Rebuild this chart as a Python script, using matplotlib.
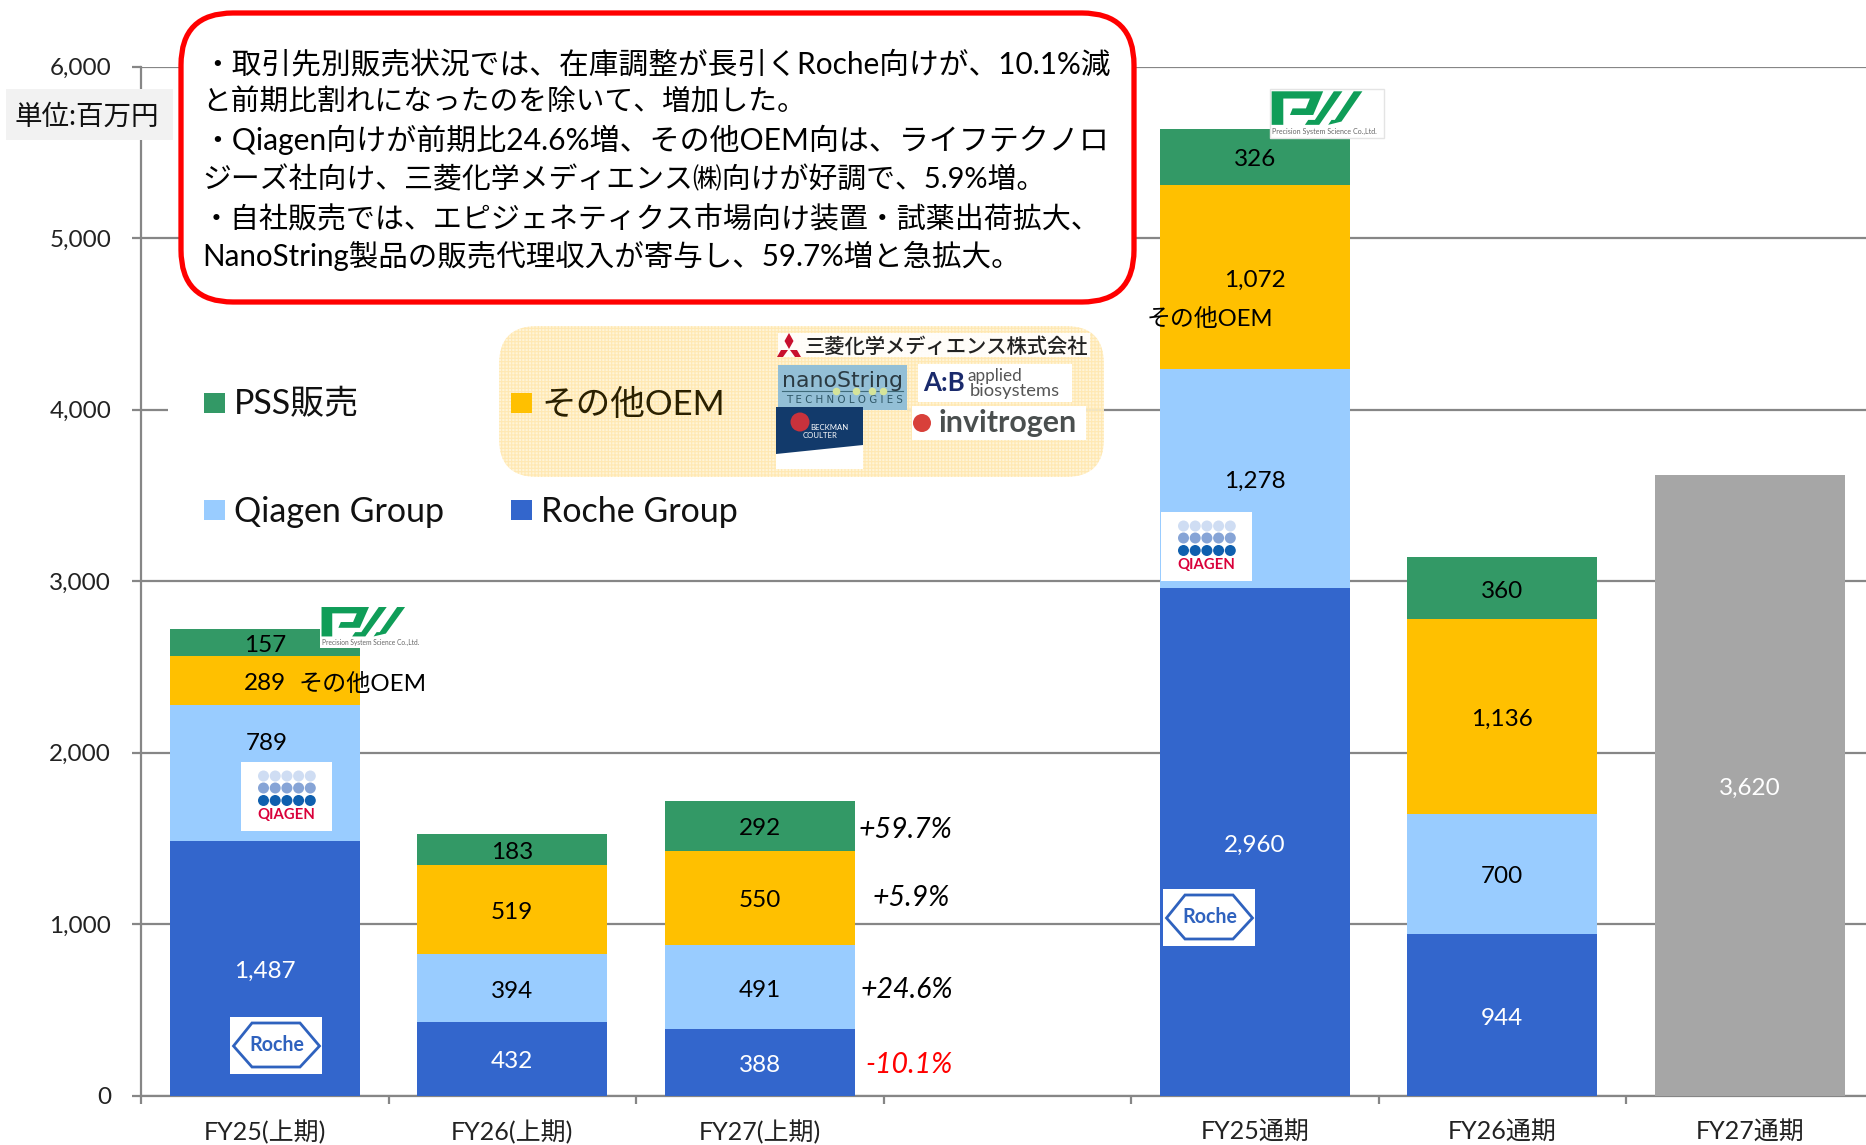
import matplotlib
matplotlib.use("Agg")
import matplotlib.pyplot as plt
from matplotlib.patches import FancyBboxPatch, Rectangle, Polygon, Circle, Ellipse

FONT = ['Lato', 'Noto Sans CJK JP', 'DejaVu Sans']
plt.rcParams['font.family'] = FONT
plt.rcParams['hatch.linewidth'] = 0.8
NARROW = ['Liberation Sans Narrow', 'Lato']

categories = ['FY25(上期)', 'FY26(上期)', 'FY27(上期)', 'FY25通期', 'FY26通期', 'FY27通期']
positions = [0, 1, 2, 4, 5, 6]
roche = [1487, 432, 388, 2960, 944, 0]
qiagen = [789, 394, 491, 1278, 700, 0]
oem = [289, 519, 550, 1072, 1136, 0]
pss = [157, 183, 292, 326, 360, 0]
forecast = [0, 0, 0, 0, 0, 3620]
growth_labels = ['+59.7%', '+5.9%', '+24.6%', '-10.1%']
yticks = [0, 1000, 2000, 3000, 4000, 5000, 6000]
series_names = ['PSS販売', 'その他OEM', 'Qiagen Group', 'Roche Group']
callout_lines = [
    '・取引先別販売状況では、在庫調整が長引くRoche向けが、10.1%減',
    'と前期比割れになったのを除いて、増加した。',
    '・Qiagen向けが前期比24.6%増、その他OEM向は、ライフテクノロ',
    'ジーズ社向け、三菱化学メディエンス㈱向けが好調で、5.9%増。',
    '・自社販売では、エピジェネティクス市場向け装置・試薬出荷拡大、',
    'NanoString製品の販売代理収入が寄与し、59.7%増と急拡大。',
]

C_ROCHE, C_QIA, C_OEM, C_PSS, C_GREY = '#3366CC', '#99CCFF', '#FFC000', '#339966', '#A6A6A6'
C_AX = '#868686'
W, H = 1866, 1145
fig = plt.figure(figsize=(W / 100, H / 100), dpi=100, facecolor='white')
L, R, T, B = 141, 1866, 66.5, 1096
ax = fig.add_axes([L / W, 1 - B / H, (R - L) / W, (B - T) / H])
ax.set_xlim(-0.5, -0.5 + (R - L) / 247.5)
ax.set_ylim(0, 6000)
ax.set_axisbelow(True)
ax.grid(axis='y', color=C_AX, lw=1.6)
for s in ['top', 'right']:
    ax.spines[s].set_visible(False)
for s in ['left', 'bottom']:
    ax.spines[s].set_color(C_AX)
    ax.spines[s].set_linewidth(1.6)

bottom = [0] * 6
stack = [(roche, C_ROCHE, 'white'), (qiagen, C_QIA, 'black'), (oem, C_OEM, 'black'),
         (pss, C_PSS, 'black'), (forecast, C_GREY, 'white')]
for vals, col, tc in stack:
    ax.bar(positions, vals, 0.768, bottom=bottom, color=col, linewidth=0, zorder=3)
    for p, v, b in zip(positions, vals, bottom):
        if v:
            dy = 33 if v == 789 else 0
            dx = 2 if v == 789 else 0
            ax.annotate(f'{v:,}', (p, b + v / 2), xytext=(dx * .72, (dy - 3) * .72), textcoords='offset points',
                        ha='center', va='center', fontsize=17.5, color=tc, zorder=5)
    bottom = [b + v for b, v in zip(bottom, vals)]

ax.set_yticks(yticks)
ax.set_yticklabels([f'{v:,}' for v in yticks], fontsize=17.5, color='#222222')
ax.tick_params(axis='y', length=6.5, width=1.6, color=C_AX, pad=15)
ax.set_xticks([-0.5 + i for i in range(7)])
ax.set_xticklabels([])
ax.set_xticks(positions, minor=True)
ax.set_xticklabels(categories, minor=True, fontsize=18, color='#222222')
ax.tick_params(axis='x', which='major', length=6, width=1.6, color=C_AX)
ax.tick_params(axis='x', which='minor', length=0, pad=17.5)

ov = fig.add_axes([0, 0, 1, 1], facecolor='none')
ov.set_xlim(0, W)
ov.set_ylim(H, 0)
ov.axis('off')
renderer = fig.canvas.get_renderer()


def fit(x, y, s, width, fs=14, ha='left', **kw):
    t = ov.text(x, y, s, ha=ha, va='center', fontsize=fs, **kw)
    w = t.get_window_extent(renderer).width
    t.set_fontsize(fs * width / w)
    return t


def rect(x0, y0, x1, y1, **kw):
    kw.setdefault('lw', 0)
    ov.add_patch(Rectangle((x0, y0), x1 - x0, y1 - y0, **kw))


# unit box
rect(6, 89, 173, 140, fc='#F2F2F2')
fit(15, 117, '単位:百万円', 145, color='#111111')

# legend area
rect(168, 380, 907, 440, fc='white')
ov.add_patch(FancyBboxPatch((535, 362), 533, 79, boxstyle='round,pad=36,rounding_size=38',
                            fc='#FFF3D2', ec='#FFE7AE', hatch='+++++', alpha=0.88, zorder=1.5, lw=0))
legend_pos = [(204, 403, C_PSS, 234, 126), (511, 403, C_OEM, 541, 184),
              (204, 510, C_QIA, 234, 211), (511, 510, C_ROCHE, 541, 198)]
for (sx, sy, col, tx, tw), name in zip(legend_pos, series_names):
    rect(sx, sy - 10, sx + 21, sy + 10, fc=col, zorder=2)
    fit(tx, sy + 1.5, name, tw, color='#2A2000' if name == 'その他OEM' else '#111111', zorder=2)

# callout
ov.add_patch(FancyBboxPatch((231, 63), 853, 189, boxstyle='round,pad=50,rounding_size=52',
                            fc='white', ec='#FF0000', lw=3.8, zorder=3))
for s, y, x1 in zip(callout_lines, [64, 102, 140, 180, 220, 256], [1111, 807, 1109, 1047, 1104, 1023]):
    fit(202, y, s, x1 - 202, color='black', zorder=4)

# growth labels
for s, x, y in zip(growth_labels, [905, 911, 907, 909], [830, 898, 990, 1065]):
    ov.text(x, y, s, ha='center', va='center', fontsize=20.5, style='italic',
            color='#FF0000' if s.startswith('-') else 'black')

# inline labels
fit(299, 684, 'その他OEM', 128, color='black', zorder=4)
fit(1147, 319, 'その他OEM', 127, color='black', zorder=4)


def roche_logo(x, y, w=92, h=57):
    rect(x, y, x + w, y + h, fc='white', zorder=6)
    pts = [(3.5, 29), (22, 6), (70, 6), (89.5, 29), (70, 50), (22, 50)]
    ov.add_patch(Polygon([(x + a * w / 92, y + b * h / 57) for a, b in pts], closed=True,
                         fc='none', ec='#2F62BE', lw=2, zorder=7))
    fit(x + 47 * w / 92, y + 28 * h / 57, 'Roche', 55, ha='center', color='#2F62BE', weight='bold', zorder=7,
        family=NARROW)


def qiagen_logo(x, y):
    rect(x, y, x + 91, y + 69, fc='white', zorder=6)
    for yy, col in zip([14, 26, 38.5], ['#CFDDF3', '#86A4D6', '#0F5FAE']):
        for i in range(5):
            ov.add_patch(Circle((x + 22.5 + i * 11.7, y + yy), 5.5, fc=col, ec='none', zorder=7))
    fit(x + 45.5, y + 53, 'QIAGEN', 58, ha='center', color='#D9003A', weight='bold', zorder=7, family=NARROW)


def pss_logo(x, y, w, h, border=False):
    rect(x, y, x + w, y + h, fc='white', zorder=6, ec='#E4E4E4' if border else 'none', lw=1 if border else 0)
    fx = lambda a: x + (a - 450) / 343 * w
    fy = lambda b: y + (b - 26) / 149 * h
    shapes = [
        [(455, 33), (610, 33), (580, 105), (510, 105), (518, 85), (558, 85), (570, 55), (490, 55), (490, 135), (455, 135)],
        [(642, 33), (668, 33), (598, 135), (555, 135), (565, 120), (585, 120)],
        [(702, 33), (728, 33), (665, 125), (625, 135), (635, 120), (645, 120)],
    ]
    for pts in shapes:
        ov.add_patch(Polygon([(fx(a), fy(b)) for a, b in pts], closed=True, fc='#0F9D58', ec='none', zorder=7))
    fit(fx(455), fy(156), 'Precision System Science Co.,Ltd.', 0.93 * w, color='#666666', zorder=7)


roche_logo(230, 1017)
roche_logo(1163, 889)
qiagen_logo(241, 762)
qiagen_logo(1161, 512)
pss_logo(320, 605, 105, 43)
pss_logo(1270, 89, 114, 49, border=True)

# OEM logos
rect(778, 333, 1090, 357, fc='white', alpha=0.9, zorder=4)
for pts in [[(789, 333), (793.5, 341), (789, 349), (784.5, 341)],
            [(788, 350), (783, 357), (777, 357), (781, 350)],
            [(790, 350), (797, 350), (801, 357), (795, 357)]]:
    ov.add_patch(Polygon(pts, closed=True, fc='#C8102E', ec='none', zorder=5))
fit(805, 346, '三菱化学メディエンス株式会社', 285, color='#222222', zorder=5, weight='medium')

rect(778, 365, 907, 410, fc='#93BFD6', zorder=4)
fit(782, 381, 'nanoString', 121, color='#2B3A42', zorder=5, family=['DejaVu Sans'])
ov.plot([782, 903], [391, 391], color='#3F6A7A', lw=0.8, zorder=5)
ov.scatter([836, 856, 872, 883], [391] * 4, s=30, color='#D5E49A', zorder=6, lw=0)
fit(786, 400, 'T E C H N O L O G I E S', 117, color='#2E5666', zorder=5, family=['DejaVu Sans'])

rect(918, 364, 1072, 402, fc='white', zorder=4)
fit(923, 383, 'A:B', 42, color='#1A2A6C', weight='bold', zorder=5)
fit(967, 376, 'applied', 55, color='#555555', zorder=5, family=NARROW)
fit(970, 391, 'biosystems', 90, color='#555555', zorder=5, family=NARROW)

rect(912, 406, 1086, 440, fc='white', zorder=4)
ov.add_patch(Circle((922, 423), 9, fc='#D8403A', ec='none', zorder=5))
fit(938, 423, 'invitrogen', 139, color='#4A4F4F', zorder=5, weight='bold')

rect(776, 407, 863, 469, fc='white', zorder=4)
ov.add_patch(Polygon([(776, 407), (863, 407), (863, 445), (776, 454)], closed=True, fc='#123A6B', ec='none', zorder=5))
ov.add_patch(Ellipse((800, 422), 19, 19, fc='#C8323C', ec='none', zorder=6))
fit(810, 428, 'BECKMAN', 38, color='white', zorder=6)
fit(803, 436, 'COULTER', 35, color='white', zorder=6)

fig.savefig('out.png', dpi=100)
